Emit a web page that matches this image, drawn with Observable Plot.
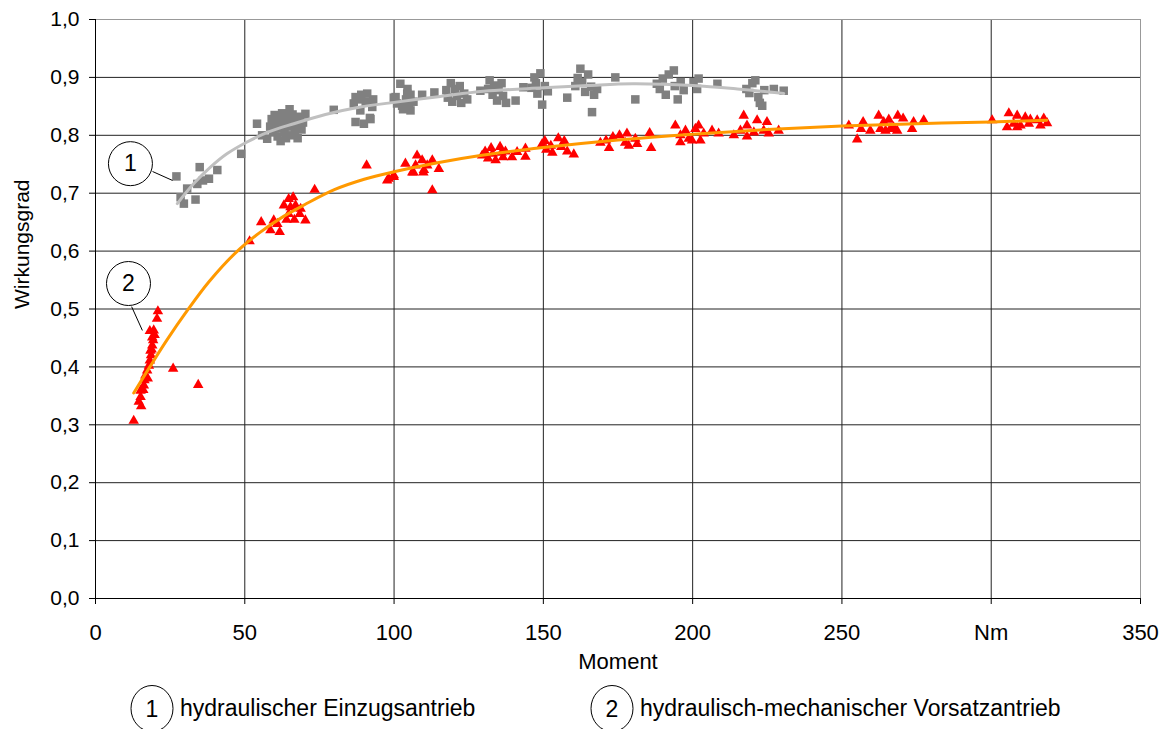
<!DOCTYPE html>
<html>
<head>
<meta charset="utf-8">
<script src="https://cdn.jsdelivr.net/npm/d3@7"></script>
<script src="https://cdn.jsdelivr.net/npm/@observablehq/plot@0.6"></script>
<style>
  body { margin: 0; background: #fff; font-family: "Liberation Sans", Arial, sans-serif; }
  #chart svg { display: block; overflow: visible; }
  #legend { position: relative; width: 1165px; height: 41px; font-size: 23px; color: #000; }
  #legend .item { position: absolute; top: 0; height: 41px; display: flex; align-items: center; }
  #legend svg { overflow: visible; }
</style>
</head>
<body>
<div id="chart"></div>
<div id="legend"></div>
<script>
// Measured efficiency (Wirkungsgrad) over torque (Moment, Nm)
// Series 1: hydraulischer Einzugsantrieb  [moment, efficiency]
const einzug = [
  [27.1,0.729],[28.5,0.693],[29.6,0.682],[30.7,0.708],[33.5,0.689],[34.1,0.716],[34.9,0.745],[36.0,0.722],
  [38.0,0.725],[40.8,0.740],[48.8,0.768],
  [54.1,0.820],[55.8,0.800],[57.5,0.794],[58.5,0.815],[59.0,0.828],[59.5,0.805],[60.0,0.835],[60.5,0.820],
  [61.0,0.798],[61.5,0.830],[62.0,0.812],[62.5,0.838],[63.0,0.822],[63.3,0.805],[63.8,0.795],[64.0,0.832],
  [64.5,0.815],[65.0,0.826],[65.5,0.800],[66.0,0.836],[66.3,0.818],[66.8,0.808],[67.2,0.828],[67.7,0.795],
  [68.0,0.815],[68.5,0.832],[69.0,0.810],[69.5,0.822],[70.3,0.837],[62.0,0.790],[65.0,0.845],[60.0,0.812],
  [79.8,0.844],
  [86.5,0.855],[87.1,0.823],[87.1,0.866],[88.0,0.862],[88.7,0.843],[89.0,0.870],[89.9,0.820],[90.5,0.858],
  [91.0,0.872],[91.9,0.830],[92.1,0.828],[92.7,0.849],[93.0,0.862],
  [99.9,0.865],[100.5,0.866],[101.0,0.855],[102.1,0.889],[102.7,0.851],[103.0,0.845],[104.0,0.862],
  [104.4,0.872],[104.5,0.880],[105.0,0.850],[105.5,0.843],[105.5,0.870],[106.5,0.858],[109.4,0.870],[113.5,0.874],
  [117.5,0.878],[118.0,0.865],[119.0,0.890],[119.5,0.858],[120.5,0.880],[121.0,0.868],[122.0,0.885],
  [122.5,0.856],[123.5,0.872],[124.5,0.862],[128.9,0.877],
  [131.5,0.880],[132.0,0.895],[133.0,0.870],[133.5,0.886],[134.5,0.860],[135.0,0.878],[136.0,0.890],
  [136.5,0.868],[137.5,0.856],[140.7,0.860],[143.3,0.883],
  [146.0,0.882],[147.0,0.900],[147.5,0.890],[148.0,0.872],[149.0,0.907],[149.6,0.853],[150.5,0.885],[151.5,0.876],
  [158.0,0.865],
  [160.7,0.885],[161.5,0.899],[162.4,0.915],[163.0,0.892],[164.0,0.875],[165.0,0.905],[166.0,0.884],
  [166.3,0.840],[167.0,0.870],[168.0,0.880],[174.1,0.900],[180.8,0.862],
  [188.0,0.889],[189.0,0.880],[190.0,0.898],[191.0,0.870],[192.0,0.905],[193.7,0.912],[194.0,0.885],
  [195.0,0.862],[196.0,0.892],[197.0,0.878],[200.3,0.892],[201.5,0.880],[202.0,0.898],[208.3,0.889],
  [218.0,0.880],[219.0,0.873],[220.0,0.890],[221.0,0.895],[222.0,0.866],[222.5,0.856],[223.3,0.851],
  [224.0,0.878],[227.2,0.880],[230.5,0.877]
];

// Series 2: hydraulisch-mechanischer Vorsatzantrieb  [moment, efficiency]
const vorsatz = [
  [12.8,0.307],[14.5,0.340],[15.1,0.348],[15.3,0.332],[15.1,0.359],[16.0,0.360],[16.2,0.368],[16.4,0.377],
  [16.7,0.385],[17.3,0.394],[17.5,0.380],[17.9,0.402],[18.2,0.411],[18.6,0.420],[18.4,0.428],[18.8,0.430],
  [19.0,0.437],[19.3,0.446],[19.0,0.451],[19.8,0.455],[18.2,0.462],[19.5,0.463],[20.6,0.483],[20.9,0.496],
  [26.0,0.397],[34.4,0.369],
  [51.6,0.617],[55.5,0.650],[58.6,0.636],[59.7,0.653],[60.9,0.647],[61.7,0.633],[63.1,0.679],[64.0,0.654],
  [64.7,0.664],[64.7,0.690],[65.3,0.676],[66.2,0.693],[66.6,0.654],[67.0,0.679],[68.4,0.664],[68.7,0.673],
  [70.3,0.653],[73.4,0.706],[90.8,0.748],
  [97.7,0.722],[98.2,0.725],[99.9,0.728],[99.9,0.731],[103.8,0.751],[106.1,0.736],[106.5,0.736],[107.2,0.748],
  [107.7,0.765],[109.4,0.757],[109.8,0.736],[110.0,0.740],[111.1,0.748],[112.8,0.757],[112.8,0.705],[115.0,0.742],
  [129.5,0.765],[130.5,0.772],[131.5,0.760],[132.5,0.778],[133.0,0.768],[134.0,0.757],[135.5,0.780],
  [136.0,0.770],[136.5,0.762],[137.3,0.772],[139.5,0.762],[141.2,0.771],[144.0,0.777],[144.0,0.763],
  [149.6,0.785],[150.5,0.790],[151.0,0.775],[152.5,0.782],[153.0,0.770],[155.0,0.795],[156.0,0.780],
  [157.0,0.790],[158.0,0.772],[160.2,0.767],
  [169.1,0.787],[171.0,0.791],[172.0,0.778],[173.3,0.797],[175.5,0.800],[177.4,0.787],[178.0,0.803],
  [178.6,0.782],[180.8,0.794],[181.4,0.785],[185.6,0.804],[186.1,0.778],
  [194.2,0.817],[195.9,0.800],[195.9,0.788],[197.6,0.808],[198.7,0.794],[199.8,0.791],[200.9,0.811],
  [202.0,0.817],[202.6,0.791],[203.7,0.803],[206.5,0.808],[208.7,0.803],[213.8,0.800],
  [216.0,0.808],[217.1,0.834],[218.2,0.817],[218.2,0.798],[220.5,0.805],[221.6,0.826],[223.8,0.808],
  [224.9,0.823],[225.5,0.803],[228.8,0.808],
  [252.3,0.817],[255.1,0.793],[256.4,0.811],[257.1,0.823],[259.5,0.808],
  [262.3,0.834],[262.9,0.811],[264.0,0.823],[264.6,0.808],[265.7,0.827],[266.2,0.811],[267.3,0.814],
  [268.5,0.808],[268.7,0.834],[270.5,0.829],[273.5,0.811],[274.0,0.823],[277.4,0.826],
  [300.3,0.826],
  [305.3,0.814],[305.9,0.838],[307.5,0.820],[308.7,0.834],[308.7,0.814],[309.8,0.817],[311.4,0.831],
  [312.6,0.820],[313.1,0.827],[315.4,0.826],[316.5,0.817],[317.6,0.829],[318.7,0.821]
];

// Trend lines through each series
const trendEinzug = [
  [27.4,0.682],[33,0.717],[38.5,0.745],[44,0.768],[50.6,0.788],[58,0.806],[66.4,0.820],[77,0.836],
  [88.7,0.849],[98.8,0.856],[115.5,0.867],[130,0.876],[150,0.882],[165,0.886],[180,0.889],[200,0.886],
  [215,0.880],[230.5,0.872]
];
const trendVorsatz = [
  [12.8,0.355],[18.2,0.400],[24,0.447],[30.7,0.497],[38,0.547],[46.9,0.597],[55,0.632],[63,0.660],
  [70,0.680],[80,0.706],[90,0.724],[100,0.737],[115,0.753],[130,0.766],[150,0.779],[175,0.792],
  [200,0.802],[225,0.810],[250,0.816],[275,0.820],[300,0.823],[318.6,0.826]
];

// Numbered callouts: circle centre and leader line
const callouts = [
  {label: "1", x: 11.7, y: 0.751, x1: 19.1, y1: 0.7375, x2: 25.8, y2: 0.722},
  {label: "2", x: 11.05, y: 0.544, x1: 12.1, y1: 0.504, x2: 15.7, y2: 0.463}
];

const xTicks = [0, 50, 100, 150, 200, 250, 300, 350];
const yTicks = [0, 0.1, 0.2, 0.3, 0.4, 0.5, 0.6, 0.7, 0.8, 0.9, 1.0];
const seriesNames = ["hydraulischer Einzugsantrieb", "hydraulisch-mechanischer Vorsatzantrieb"];

const font = '"Liberation Sans", Arial, sans-serif';

const chart = Plot.plot({
  width: 1165,
  height: 688,
  marginLeft: 95,
  marginRight: 25,
  marginTop: 19,
  marginBottom: 90,
  style: {fontFamily: font, fontSize: "21px", color: "#000", background: "#fff"},
  x: {domain: [0, 350]},
  y: {domain: [0, 1]},
  marks: [
    Plot.gridX(xTicks, {stroke: "#222", strokeOpacity: 1}),
    Plot.gridY(yTicks, {stroke: "#222", strokeOpacity: 1}),
    Plot.frame({stroke: "#999"}),
    Plot.ruleX([0], {stroke: "#000"}),
    Plot.ruleY([0], {stroke: "#000"}),
    Plot.axisX({ticks: xTicks, tickFormat: d => d === 300 ? "Nm" : String(d), tickSize: 6, tickPadding: 20, label: null, fontSize: 22}),
    Plot.axisY({ticks: yTicks, tickFormat: d => d.toFixed(1).replace(".", ","), tickSize: 6, tickPadding: 10, label: null, fontSize: 21}),
    Plot.dot(einzug, {x: d => d[0], y: d => d[1], symbol: "square", r: 4.8, fill: "#808080", stroke: "none"}),
    Plot.dot(vorsatz, {x: d => d[0], y: d => d[1], symbol: "triangle", r: 3.9, fill: "#ff0000", stroke: "none"}),
    Plot.line(trendEinzug, {x: d => d[0], y: d => d[1], curve: "catmull-rom", stroke: "#c0c0c0", strokeWidth: 3}),
    Plot.line(trendVorsatz, {x: d => d[0], y: d => d[1], curve: "catmull-rom", stroke: "#ff9900", strokeWidth: 3}),
    Plot.link(callouts, {x1: "x1", y1: "y1", x2: "x2", y2: "y2", stroke: "#000", strokeWidth: 1}),
    Plot.dot(callouts, {x: "x", y: "y", r: 22, fill: "#fff", stroke: "#000", strokeWidth: 1}),
    Plot.text(callouts, {x: "x", y: "y", text: "label", fontSize: 23}),
    Plot.text(["Moment"], {text: d => d, frameAnchor: "bottom", dy: 70, fontSize: 22}),
    Plot.text(["Wirkungsgrad"], {text: d => d, frameAnchor: "left", dx: -73, rotate: -90, fontSize: 21})
  ]
});
document.getElementById("chart").appendChild(chart);

// Legend below the chart: numbered circle + series name
const legendPos = [{cx: 152, tx: 180}, {cx: 612, tx: 640}];
const legend = document.getElementById("legend");
seriesNames.forEach((name, i) => {
  const badge = document.createElement("div");
  badge.className = "item";
  badge.style.left = (legendPos[i].cx - 22) + "px";
  badge.innerHTML = `<svg width="44" height="41"><ellipse cx="22" cy="20.5" rx="21" ry="23" fill="#fff" stroke="#000" stroke-width="1"/><text x="22" y="20.5" text-anchor="middle" dominant-baseline="central" font-size="23" font-family='${font}'>${i + 1}</text></svg>`;
  legend.appendChild(badge);
  const label = document.createElement("div");
  label.className = "item";
  label.style.left = legendPos[i].tx + "px";
  label.textContent = name;
  legend.appendChild(label);
});
</script>
</body>
</html>
